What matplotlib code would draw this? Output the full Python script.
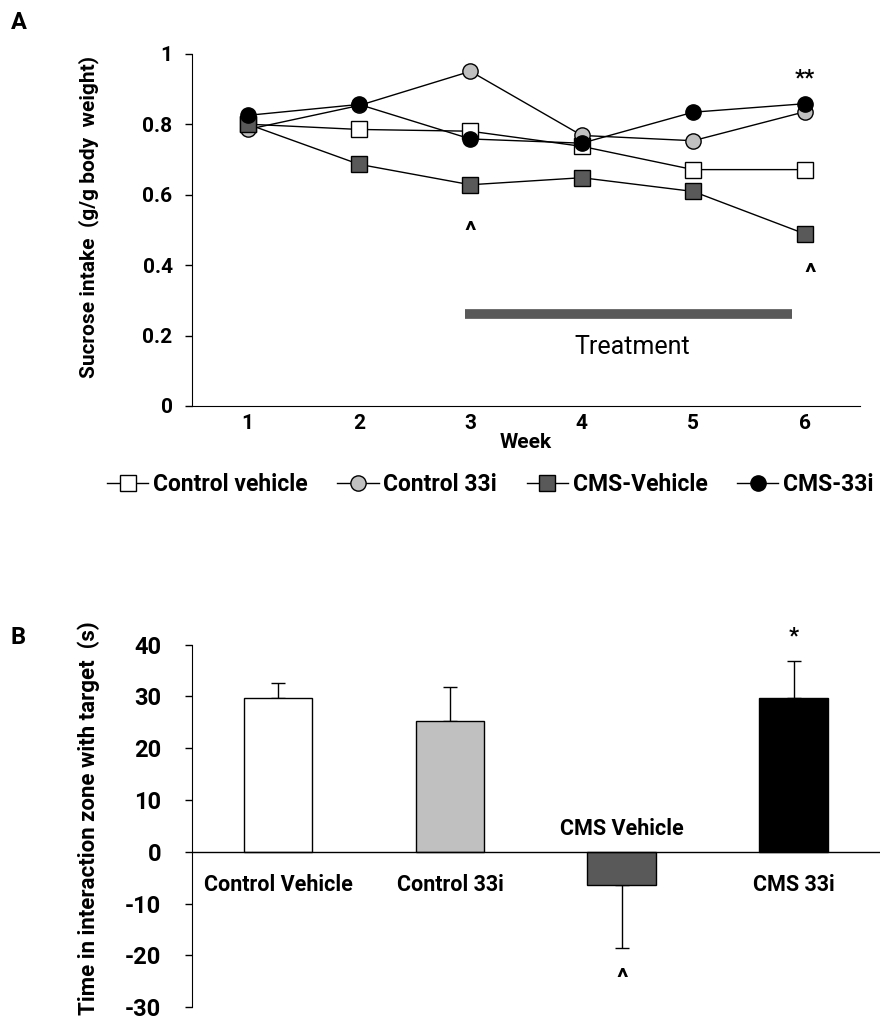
import numpy as np
import matplotlib
matplotlib.use("Agg")
import matplotlib.pyplot as plt
from matplotlib.lines import Line2D

plt.rcParams['font.family'] = ['Roboto', 'DejaVu Sans']
plt.rcParams['axes.unicode_minus'] = False

# sucrose preference over weeks
weeks = [1, 2, 3, 4, 5, 6]
ctrl_vehicle = [0.80, 0.785, 0.78, 0.737, 0.671, 0.671]
ctrl_33i = [0.785, 0.853, 0.95, 0.768, 0.753, 0.835]
cms_vehicle = [0.80, 0.686, 0.628, 0.648, 0.609, 0.489]
cms_33i = [0.825, 0.856, 0.758, 0.746, 0.834, 0.858]

# social interaction test
groups = ['Control Vehicle', 'Control 33i', 'CMS Vehicle', 'CMS 33i']
interaction = [29.6, 25.3, -6.5, 29.6]
interaction_err = [3.0, 6.6, 12.1, 7.2]

fig = plt.figure(figsize=(8.85, 10.33), dpi=100)

# ---- panel A ----
axA = fig.add_axes([0.217, 0.607, 0.755, 0.341])
series = [
    (ctrl_vehicle, 's', 'white', 'Control vehicle'),
    (ctrl_33i, 'o', '#c0c0c0', 'Control 33i'),
    (cms_vehicle, 's', '#595959', 'CMS-Vehicle'),
    (cms_33i, 'o', 'black', 'CMS-33i'),
]
for vals, mk, fc, lab in series:
    axA.plot(weeks, vals, color='black', lw=1, marker=mk, markersize=11,
             markerfacecolor=fc, markeredgecolor='black', markeredgewidth=1,
             label=lab)

axA.set_xlim(0.5, 6.5)
axA.set_ylim(0, 1)
axA.set_yticks([0, 0.2, 0.4, 0.6, 0.8, 1.0])
axA.set_yticklabels(['0', '0.2', '0.4', '0.6', '0.8', '1'])
axA.set_xticks(weeks)
axA.tick_params(axis='x', length=0, pad=6, labelsize=15)
axA.tick_params(axis='y', length=5, width=1, pad=9, labelsize=15)
for t in axA.get_xticklabels() + axA.get_yticklabels():
    t.set_fontweight('bold')
for s in ['top', 'right']:
    axA.spines[s].set_visible(False)
axA.set_xlabel('Week', fontsize=15, fontweight='bold', labelpad=0)
axA.set_ylabel('Sucrose intake  (g/g body  weight)', fontsize=15,
               fontweight='bold')
axA.yaxis.set_label_coords(-0.14, 0.537)

# treatment period
axA.plot([2.95, 5.89], [0.26, 0.26], color='#595959', lw=7, solid_capstyle='butt')
axA.text(4.45, 0.167, 'Treatment', ha='center', va='center', fontsize=18)
axA.text(3, 0.494, '^', ha='center', va='center', fontsize=19, fontweight='bold')
axA.text(6.05, 0.375, '^', ha='center', va='center', fontsize=19, fontweight='bold')
axA.text(6, 0.93, '**', ha='center', va='center', fontsize=16, fontweight='bold')

handles = [Line2D([], [], color='black', lw=1, marker=mk, markersize=11,
                  markerfacecolor=fc, markeredgecolor='black')
           for _, mk, fc, _ in series]
fig.legend(handles, [s[3] for s in series], loc='center',
           bbox_to_anchor=(0.554, 0.531), ncol=4, frameon=False,
           prop={'weight': 'bold', 'size': 16.5}, handlelength=1.8,
           handletextpad=0.2, columnspacing=1.3)

fig.text(0.012, 0.978, 'A', fontsize=17, fontweight='bold', va='center')

# ---- panel B ----
axB = fig.add_axes([0.217, 0.025, 0.777, 0.351])
x = np.arange(len(groups))
bar_colors = ['white', '#c0c0c0', '#595959', 'black']
axB.bar(x, interaction, width=0.4, color=bar_colors,
        edgecolor='black', linewidth=1, zorder=2)
# one-sided error bars, away from zero
lower = [0 if v > 0 else e for v, e in zip(interaction, interaction_err)]
upper = [e if v > 0 else 0 for v, e in zip(interaction, interaction_err)]
axB.errorbar(x, interaction, yerr=[lower, upper], fmt='none', ecolor='black',
             elinewidth=1, capsize=5, capthick=1, zorder=1)

axB.set_xlim(-0.5, 3.5)
axB.set_ylim(-30, 40)
axB.set_yticks(range(-30, 41, 10))
axB.tick_params(axis='y', length=5, width=1, pad=17, labelsize=17)
for t in axB.get_yticklabels():
    t.set_fontweight('bold')
axB.set_xticks([])
for s in ['top', 'right', 'bottom']:
    axB.spines[s].set_visible(False)
axB.axhline(0, color='black', lw=1, zorder=3)
axB.set_ylabel('Time in interaction zone with target  (s)', fontsize=16,
               fontweight='bold')
axB.yaxis.set_label_coords(-0.134, 0.522)

for i, (g, v) in enumerate(zip(groups, interaction)):
    if v < 0:
        axB.text(i, 4.4, g, ha='center', va='center', fontsize=15.5, fontweight='bold')
    else:
        axB.text(i, -6.4, g, ha='center', va='center', fontsize=15.5, fontweight='bold')
axB.text(2, -24.5, '^', ha='center', va='center', fontsize=19, fontweight='bold')
axB.text(3, 41.5, '*', ha='center', va='center', fontsize=16, fontweight='bold')

fig.text(0.012, 0.383, 'B', fontsize=17, fontweight='bold', va='center')

fig.savefig('out.png', dpi=100)
